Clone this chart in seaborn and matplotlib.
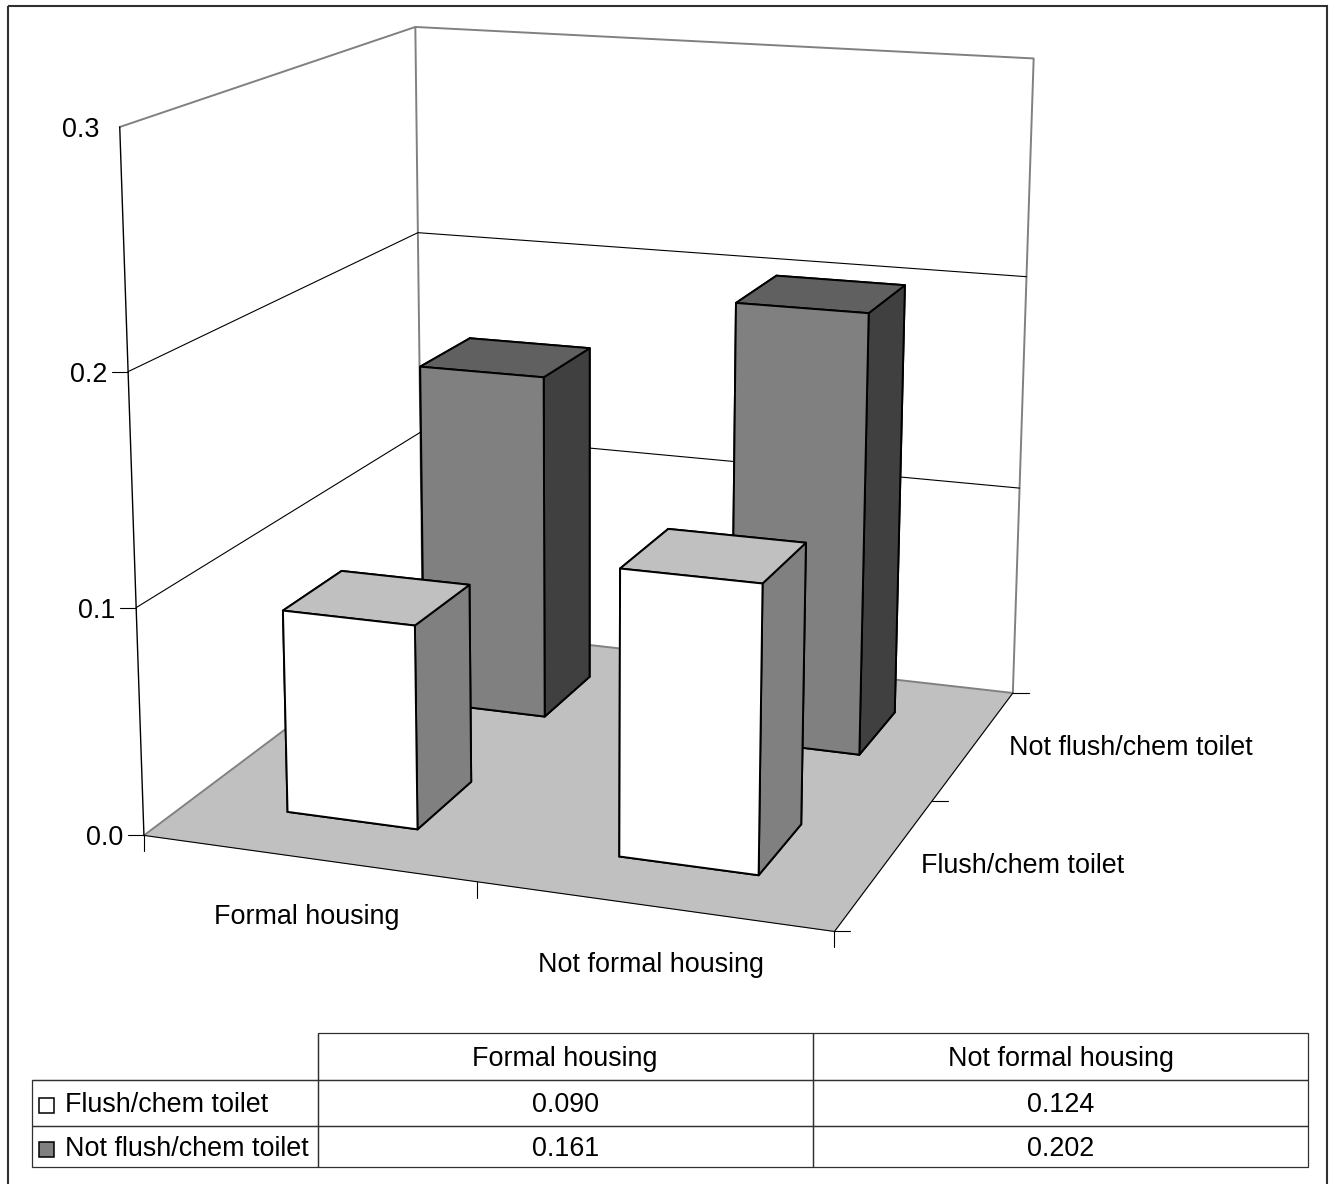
import numpy as np
import seaborn as sns
import matplotlib.pyplot as plt
from matplotlib.patches import Rectangle

housing = ['Formal housing', 'Not formal housing']
toilet = ['Flush/chem toilet', 'Not flush/chem toilet']
flush_values = [0.090, 0.124]
not_flush_values = [0.161, 0.202]
z_ticks = [0.0, 0.1, 0.2, 0.3]
z_top = 0.3

bar_start = 0.3
bar_size = 0.4

W, H = 1334, 1184

# camera fit: frame corners of the 3d box (housing, toilet, value) -> reference pixel
world_pts = [(0, 0, 0), (0, 0, .1), (0, 0, .2), (0, 0, .3), (2, 0, 0), (1, 0, 0), (2, 1, 0),
             (2, 2, 0), (2, 2, .1), (2, 2, .2), (2, 2, .3), (0, 2, 0), (0, 2, .2), (0, 2, .3)]
pixel_pts = [(145, 835), (135, 606), (128.5, 372), (120, 127), (834, 933), (476.7, 882), (932, 801),
             (1013, 691), (1019, 488), (1027, 277), (1034, 59), (423, 628), (417.5, 232), (415, 27)]


def fit_camera(world, pixel):
    rows = []
    for (x, y, z), (u, v) in zip(world, pixel):
        v = H - v
        u, v = u / 1000, v / 1000
        rows.append([x, y, z * 7, 1, 0, 0, 0, 0, -u * x, -u * y, -u * z * 7, -u])
        rows.append([0, 0, 0, 0, x, y, z * 7, 1, -v * x, -v * y, -v * z * 7, -v])
    p = np.linalg.svd(np.array(rows))[2][-1].reshape(3, 4)
    p[:, 2] *= 7
    p[:2] *= 1000
    if p[2] @ np.array([1, 1, .1, 1]) < 0:
        p = -p
    return p


P = fit_camera(world_pts, pixel_pts)


def to_pixel(x, y, z):
    u, v, w = P @ np.array([x, y, z, 1.0])
    return u / w, H - v / w


sns.set_theme(style='white')
plt.rcParams['font.family'] = ['Liberation Sans', 'DejaVu Sans']
plt.rcParams['text.color'] = 'black'

fig = plt.figure(figsize=(W / 100, H / 100), dpi=100, facecolor='white')
ax = fig.add_axes([0, 0, 1, 1], projection='3d', computed_zorder=False)
ax.set_axis_off()
ax.patch.set_alpha(0)


def camera_matrix():
    # takes display pixels back to the axes' 2d data space
    q = ax.transData.inverted().get_matrix() @ P
    return np.array([q[0], q[1], [0, 0, 0, -1], q[2]])


ax.get_proj = camera_matrix

# floor
xx, yy = np.meshgrid([0, 2], [0, 2])
ax.plot_surface(xx, yy, np.zeros_like(xx, dtype=float), color='#c0c0c0', shade=False,
                linewidth=0, antialiased=False, zorder=1)

grey = dict(color='#808080', lw=1.4, zorder=2)
thin = dict(color='black', lw=0.8, zorder=2)
# walls
ax.plot([0, 0, 2, 2], [0, 2, 2, 2], [z_top, z_top, z_top, 0], **grey)
ax.plot([0, 0], [2, 2], [0, z_top], **grey)
ax.plot([0, 0, 2], [0, 2, 2], [0, 0, 0], **grey)
ax.plot([0, 0], [0, 0], [0, z_top], color='black', lw=1.0, zorder=2)
ax.plot([0, 2, 2], [0, 0, 2], [0, 0, 0], **thin)
for t in z_ticks[1:-1]:
    ax.plot([0, 0, 2], [0, 2, 2], [t, t, t], **thin)

# bars, back row first
white_faces = ['white', '#c0c0c0', 'white', 'white', '#808080', '#808080']
grey_faces = ['#808080', '#606060', '#808080', '#808080', '#404040', '#404040']
order = 3
for row, values, faces in [(1, not_flush_values, grey_faces), (0, flush_values, white_faces)]:
    for col, val in enumerate(values):
        ax.bar3d(col + bar_start, row + bar_start, 0, bar_size, bar_size, val, color=faces,
                 shade=False, edgecolor='black', linewidth=1.4, zorder=order)
        order += 1

# overlay in reference pixels for frame, ticks and labels
ov = fig.add_axes([0, 0, 1, 1], zorder=5)
ov.set_xlim(0, W)
ov.set_ylim(H, 0)
ov.set_axis_off()
ov.patch.set_alpha(0)

ov.add_patch(Rectangle((8, 5.5), 1319, 1185, fill=False, ec='#303030', lw=1.5, clip_on=False))

FS = 19.4
for t in z_ticks:
    px, py = to_pixel(0, 0, t)
    if t < z_top:
        ov.plot([px - 16, px], [py, py], color='black', lw=0.8)
    ov.text(px - 20.5, py, f'{t:.1f}', ha='right', va='center_baseline', fontsize=FS)
for i in range(3):
    px, py = to_pixel(i, 0, 0)
    ov.plot([px, px], [py, py + 16], color='black', lw=0.8)
    px, py = to_pixel(2, i, 0)
    ov.plot([px, px + 16], [py, py], color='black', lw=0.8)

ov.text(307, 914, housing[0], ha='center', va='center_baseline', fontsize=FS)
ov.text(651, 962, housing[1], ha='center', va='center_baseline', fontsize=FS)
ov.text(921, 863, toilet[0], ha='left', va='center_baseline', fontsize=FS)
ov.text(1009, 745, toilet[1], ha='left', va='center_baseline', fontsize=FS)

# data table
col_edges = [31.5, 317.5, 813, 1308]
row_edges = [1033, 1079.5, 1125.5, 1167]
cells = [[''] + housing,
         [toilet[0]] + [f'{v:.3f}' for v in flush_values],
         [toilet[1]] + [f'{v:.3f}' for v in not_flush_values]]
tax = fig.add_axes([col_edges[0] / W, (H - row_edges[-1]) / H, (col_edges[-1] - col_edges[0]) / W,
                    (row_edges[-1] - row_edges[0]) / H], zorder=6)
tax.set_axis_off()
tb = tax.table(cellText=cells, cellLoc='center', bbox=[0, 0, 1, 1])
tb.auto_set_font_size(False)
for (r, c), cell in tb.get_celld().items():
    cell.set_width(col_edges[c + 1] - col_edges[c])
    cell.set_height(row_edges[r + 1] - row_edges[r])
    cell.set_edgecolor('#303030')
    cell.set_linewidth(0.9)
    cell.set_facecolor('none')
    cell.get_text().set_fontsize(FS)
    cell.get_text().set_va('center_baseline')
    if c == 0:
        cell.get_text().set_ha('left')
        cell.PAD = (65 - 31.5) / (317.5 - 31.5)
tb[(0, 0)].visible_edges = 'BR'

ov.add_patch(Rectangle((39, 1098), 15, 15, fc='white', ec='black', lw=1.1))
ov.add_patch(Rectangle((39, 1142), 15, 15, fc='#808080', ec='black', lw=1.1))

fig.savefig('out.png', dpi=100)
